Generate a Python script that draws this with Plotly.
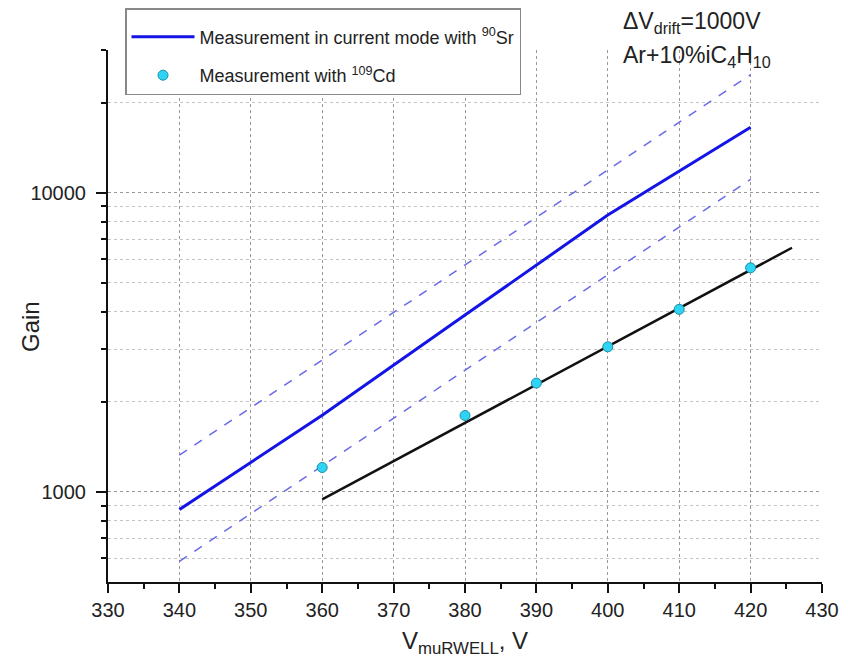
import plotly.graph_objects as go

# Current-mode measurement with 90Sr
sr_v = [340, 360, 380, 400, 420]
sr_gain = [873, 1805, 3900, 8420, 16560]

# +/- band (dashed)
band_v = [340, 420]
band_upper = [1327, 24800]
band_lower = [586, 11090]

# 109Cd measurements
cd_v = [360, 380, 390, 400, 410, 420]
cd_gain = [1207, 1801, 2311, 3055, 4076, 5611]

# Exponential fit to Cd points
fit_v = [360, 425.8]
fit_gain = [945, 6550]

x_ticks = list(range(330, 431, 10))
y_ticks = [1000, 10000]
y_minor = [600, 700, 800, 900, 2000, 3000, 4000, 5000, 6000, 7000, 8000, 9000, 20000, 30000]

FONT = "Liberation Sans, Arial, sans-serif"
W, H = 847, 661  # page body has an 8px margin

fig = go.Figure()
fig.add_trace(go.Scatter(x=band_v, y=band_upper, mode="lines", showlegend=False,
                         line=dict(color="#6a6ae8", width=1.5, dash="dash")))
fig.add_trace(go.Scatter(x=band_v, y=band_lower, mode="lines", showlegend=False,
                         line=dict(color="#6a6ae8", width=1.5, dash="dash")))
fig.add_trace(go.Scatter(x=sr_v, y=sr_gain, mode="lines", legendgroup="a",
                         name="Measurement in current mode with <sup>90</sup>Sr",
                         line=dict(color="#1414e6", width=3)))
fig.add_trace(go.Scatter(x=fit_v, y=fit_gain, mode="lines", showlegend=False,
                         line=dict(color="#111111", width=2.5)))
fig.add_trace(go.Scatter(x=cd_v, y=cd_gain, mode="markers", legendgroup="b",
                         name="Measurement with <sup>109</sup>Cd",
                         marker=dict(color="#2fd3f3", size=10,
                                     line=dict(color="#1a8fa8", width=1))))

fig.update_layout(
    width=W, height=H,
    margin=dict(l=100, r=33, t=42, b=87, autoexpand=False),
    paper_bgcolor="white", plot_bgcolor="white",
    font=dict(family=FONT, color="#222222", size=20),
    showlegend=True,
    legend=dict(xref="container", yref="container",
                x=117 / W, y=1.0, xanchor="left", yanchor="top",
                bgcolor="white", bordercolor="#888888", borderwidth=1.5,
                font=dict(family=FONT, size=18, color="#222222"),
                title=dict(text=" ", font=dict(size=7)),
                traceorder="grouped", tracegroupgap=12, itemwidth=63),
    xaxis=dict(
        range=[330, 430], tickvals=x_ticks, ticks="outside", ticklen=9, tickwidth=2,
        tickcolor="#111111", showline=True, linecolor="#111111", linewidth=2,
        showgrid=True, gridcolor="#999999", griddash="dot", gridwidth=1,
        zeroline=False, tickfont=dict(size=20, family=FONT), automargin=True,
        minor=dict(dtick=5, ticks="outside", ticklen=5, tickwidth=2, tickcolor="#111111", showgrid=False),
        title=dict(text="V<sub>muRWELL</sub>, V", font=dict(size=24, family=FONT), standoff=12),
    ),
    yaxis=dict(
        type="log", range=[2.69897, 4.4771213], tickvals=y_ticks, ticktext=["1000", "10000"],
        ticks="outside", ticklen=10, tickwidth=2, tickcolor="#111111",
        showline=True, linecolor="#111111", linewidth=2,
        showgrid=True, gridcolor="#999999", griddash="dot", gridwidth=1,
        zeroline=False, tickfont=dict(size=20, family=FONT), automargin=True,
        ticklabelstandoff=6,
        minor=dict(tickvals=y_minor, ticks="outside", ticklen=5, tickwidth=2, tickcolor="#111111",
                   showgrid=True, gridcolor="#c4c4c4", griddash="dot", gridwidth=1),
    ),
    annotations=[
        dict(text="Gain", xref="paper", yref="paper", textangle=-90,
             x=(30 - 108) / 714, y=(582 - 327) / 532, xanchor="center", yanchor="middle",
             showarrow=False, font=dict(size=24, family=FONT, color="#222222")),
        dict(text="ΔV<sub>drift</sub>=1000V", xref="paper", yref="paper",
             x=(621 - 108) / 714, y=1 + (50 - 6) / 532, xanchor="left", yanchor="top",
             showarrow=False, font=dict(size=23, family=FONT, color="#222222")),
        dict(text="Ar+10%iC<sub>4</sub>H<sub>10</sub>", xref="paper", yref="paper",
             x=(621 - 108) / 714, y=1 + (50 - 40) / 532, xanchor="left", yanchor="top",
             showarrow=False, font=dict(size=23, family=FONT, color="#222222")),
    ],
)

fig.write_html("out.html")
